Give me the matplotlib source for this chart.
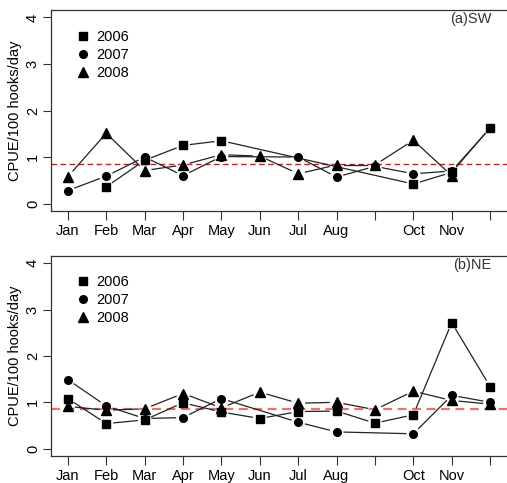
import numpy as np
import matplotlib
matplotlib.use("Agg")
import matplotlib.pyplot as plt
from matplotlib.lines import Line2D

plt.rcParams['font.family'] = ['Liberation Sans', 'DejaVu Sans']

months = list(range(1, 13))
month_labels = ["Jan", "Feb", "Mar", "Apr", "May", "Jun", "Jul", "Aug", "", "Oct", "Nov", ""]
years = ["2006", "2007", "2008"]
nan = np.nan

sw_2006 = [nan, 0.36, 0.93, 1.25, 1.35, nan, nan, nan, nan, 0.42, 0.67, 1.63]
sw_2007 = [0.28, 0.59, 1.00, 0.60, 1.01, nan, 1.00, 0.57, 0.80, 0.64, 0.70, 1.62]
sw_2008 = [0.58, 1.51, 0.71, 0.83, 1.05, 1.02, 0.64, 0.83, 0.83, 1.36, 0.60, nan]

ne_2006 = [1.08, 0.54, 0.62, 0.99, 0.79, 0.65, 0.80, 0.81, 0.55, 0.73, 2.72, 1.34]
ne_2007 = [1.49, 0.92, 0.65, 0.67, 1.08, nan, 0.57, 0.36, nan, 0.32, 1.15, 1.00]
ne_2008 = [0.91, 0.83, 0.86, 1.19, 0.88, 1.22, 0.98, 1.00, 0.84, 1.24, 1.04, 0.96]

ref_sw = 0.855
ref_ne = 0.85

markers = ['s', 'o', '^']
msizes = [5.5, 5.5, 6.5]

W, H = 507, 483
fig = plt.figure(figsize=(W / 100, H / 100), dpi=100)

def px_axes(left, top, right, bottom):
    return fig.add_axes([left / W, 1 - bottom / H, (right - left) / W, (bottom - top) / H])

def draw_b(ax, x, y, gap=7.5):
    """R type='b': points with line segments that stop short of the points."""
    x = np.asarray(x, float)
    y = np.asarray(y, float)
    ok = ~np.isnan(y)
    x, y = x[ok], y[ok]
    pts = ax.transData.transform(np.column_stack([x, y]))
    inv = ax.transData.inverted()
    for i in range(len(pts) - 1):
        p0, p1 = pts[i], pts[i + 1]
        d = p1 - p0
        L = np.hypot(*d)
        if L <= 2 * gap:
            continue
        u = d / L
        a = inv.transform(p0 + u * gap)
        b = inv.transform(p1 - u * gap)
        ax.plot([a[0], b[0]], [a[1], b[1]], color='#222222', lw=0.9, zorder=2)

def panel(ax, series, ref, ref_color, ref_lw, tag, leg_top):
    ax.set_xlim(0.56, 12.44)
    ax.set_ylim(-0.16, 4.16)
    fig.canvas.draw()
    ax.axhline(ref, color=ref_color, lw=ref_lw, ls=(0, (4, 2.5)), zorder=1)
    for s, m, ms in zip(series, markers, msizes):
        draw_b(ax, months, s)
        ax.plot(months, s, ls='none', marker=m, ms=ms, color='black', zorder=3)
    ax.set_xticks(months)
    ax.set_xticklabels(month_labels, fontsize=10.5)
    ax.set_yticks([0, 1, 2, 3, 4])
    ax.set_yticklabels(['0', '1', '2', '3', '4'], rotation=90, va='center', fontsize=10.5)
    ax.tick_params(axis='x', length=6.5, width=0.8, pad=3, color='#333333')
    ax.tick_params(axis='y', length=6, width=0.8, pad=2, color='#333333')
    ax.set_ylabel("CPUE/100 hooks/day", fontsize=10.5, labelpad=3)
    ax.spines['right'].set_visible(False)
    for sp in ['top', 'left', 'bottom']:
        ax.spines[sp].set_color('#333333')
        ax.spines[sp].set_linewidth(0.9)
    ax.text(0.965, 0.99, tag, transform=ax.transAxes, ha='right', va='top', fontsize=10.5, color='#333333')
    handles = [Line2D([], [], ls='none', marker=m, ms=ms, color='black') for m, ms in zip(markers, msizes)]
    ax.legend(handles, years, loc='upper left', bbox_to_anchor=(0.044, leg_top), frameon=False,
              fontsize=10.5, handlelength=0.8, handletextpad=0.5, labelspacing=0.28, borderaxespad=0)

ax1 = px_axes(51, 10, 507, 211)
ax2 = px_axes(51, 256, 507, 456)
panel(ax1, [sw_2006, sw_2007, sw_2008], ref_sw, '#e81010', 1.0, "(a)SW", 0.93)
panel(ax2, [ne_2006, ne_2007, ne_2008], ref_ne, '#f07070', 1.6, "(b)NE", 0.935)

fig.savefig("out.png", dpi=100)
